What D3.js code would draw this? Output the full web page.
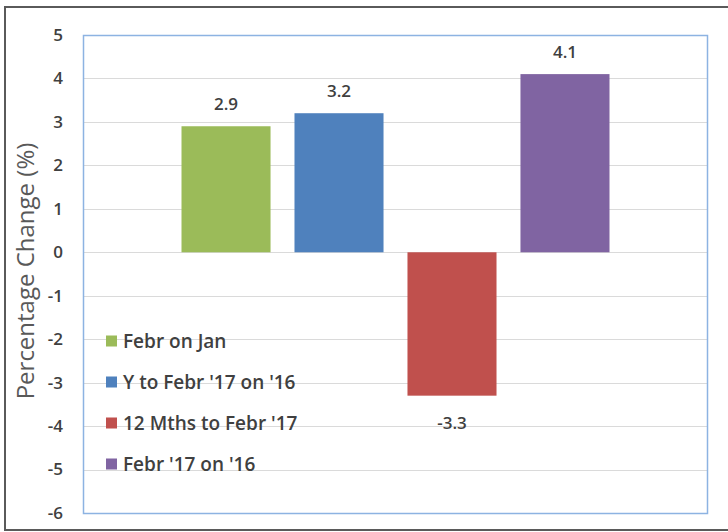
<!DOCTYPE html>
<html>
<head>
<meta charset="utf-8">
<script src="https://cdn.jsdelivr.net/npm/d3@7"></script>
<style>
  body { margin: 0; background: #fff; }
  svg { display: block; font-family: "Open Sans", Lato, sans-serif; }
</style>
</head>
<body>
<svg id="chart" width="728" height="532"></svg>
<script>
// series shown in the chart (one bar each)
const seriesNames = ["Febr on Jan", "Y to Febr '17 on '16", "12 Mths to Febr '17", "Febr '17 on '16"];
const seriesValues = [2.9, 3.2, -3.3, 4.1];
const seriesColors = ["#9bbb59", "#4f81bd", "#c0504d", "#8064a2"];
const yTicks = [5, 4, 3, 2, 1, 0, -1, -2, -3, -4, -5, -6];

const data = seriesNames.map((name, i) => ({ name: name, value: seriesValues[i], color: seriesColors[i] }));

const svg = d3.select("#chart");

// plot box
const plot = { left: 83, right: 707, top: 35, bottom: 513 };

// outer frame
svg.append("rect")
  .attr("x", 5).attr("y", 7)
  .attr("width", 740).attr("height", 523)
  .attr("fill", "none")
  .attr("stroke", "#5a5a5a")
  .attr("stroke-width", 2);

const y = d3.scaleLinear()
  .domain([-6, 5])
  .range([plot.bottom, plot.top]);

const x = d3.scaleBand()
  .domain(seriesNames)
  .range([181.5, 609.5])
  .paddingInner(0.212)
  .paddingOuter(0);

// gridlines
svg.append("g")
  .selectAll("line")
  .data(yTicks.filter(d => d !== 5 && d !== -6))
  .enter().append("line")
    .attr("x1", plot.left).attr("x2", plot.right)
    .attr("y1", d => Math.round(y(d)) + 0.5)
    .attr("y2", d => Math.round(y(d)) + 0.5)
    .attr("stroke", "#dadada")
    .attr("stroke-width", 1);

// y axis labels (plain hyphen for negatives, like the original)
const yAxis = svg.append("g")
  .attr("transform", `translate(${plot.left},0)`)
  .call(d3.axisLeft(y).tickValues(yTicks).tickSize(0).tickPadding(20).tickFormat(d => String(d)));
yAxis.select(".domain").remove();
yAxis.selectAll("text")
  .attr("fill", "#404040")
  .style("font-size", "17px")
  .style("font-weight", "600")
  .style("font-family", "'Open Sans', sans-serif");

// bars
svg.append("g")
  .selectAll("rect")
  .data(data)
  .enter().append("rect")
    .attr("x", d => x(d.name))
    .attr("y", d => y(Math.max(0, d.value)))
    .attr("width", x.bandwidth())
    .attr("height", d => Math.abs(y(d.value) - y(0)))
    .attr("fill", d => d.color);

// value labels
svg.append("g")
  .selectAll("text")
  .data(data)
  .enter().append("text")
    .attr("x", d => x(d.name) + x.bandwidth() / 2)
    .attr("y", d => d.value >= 0 ? y(d.value) - 16 : y(d.value) + 33)
    .attr("text-anchor", "middle")
    .attr("fill", "#404040")
    .style("font-size", "17px")
    .style("font-weight", "600")
    .text(d => d.value);

// plot box border
svg.append("rect")
  .attr("x", plot.left + 0.5).attr("y", plot.top + 0.5)
  .attr("width", plot.right - plot.left).attr("height", plot.bottom - plot.top)
  .attr("fill", "none")
  .attr("stroke", "#8db3e2")
  .attr("stroke-width", 1.5);

// y axis title
svg.append("text")
  .attr("transform", `translate(34, ${(plot.top + plot.bottom) / 2 - 3}) rotate(-90)`)
  .attr("text-anchor", "middle")
  .attr("fill", "#595959")
  .style("font-size", "24px")
  .text("Percentage Change (%)");

// legend
const legend = svg.append("g")
  .attr("transform", "translate(106, 341)");
const items = legend.selectAll("g")
  .data(data)
  .enter().append("g")
    .attr("transform", (d, i) => `translate(0, ${i * 41})`);
items.append("rect")
  .attr("x", 0).attr("y", -5.5)
  .attr("width", 11).attr("height", 11)
  .attr("fill", d => d.color);
items.append("text")
  .attr("x", 17).attr("y", 0)
  .attr("dy", "0.35em")
  .attr("fill", "#404040")
  .style("font-size", "19px")
  .style("font-weight", "600")
  .text(d => d.name);
</script>
</body>
</html>
